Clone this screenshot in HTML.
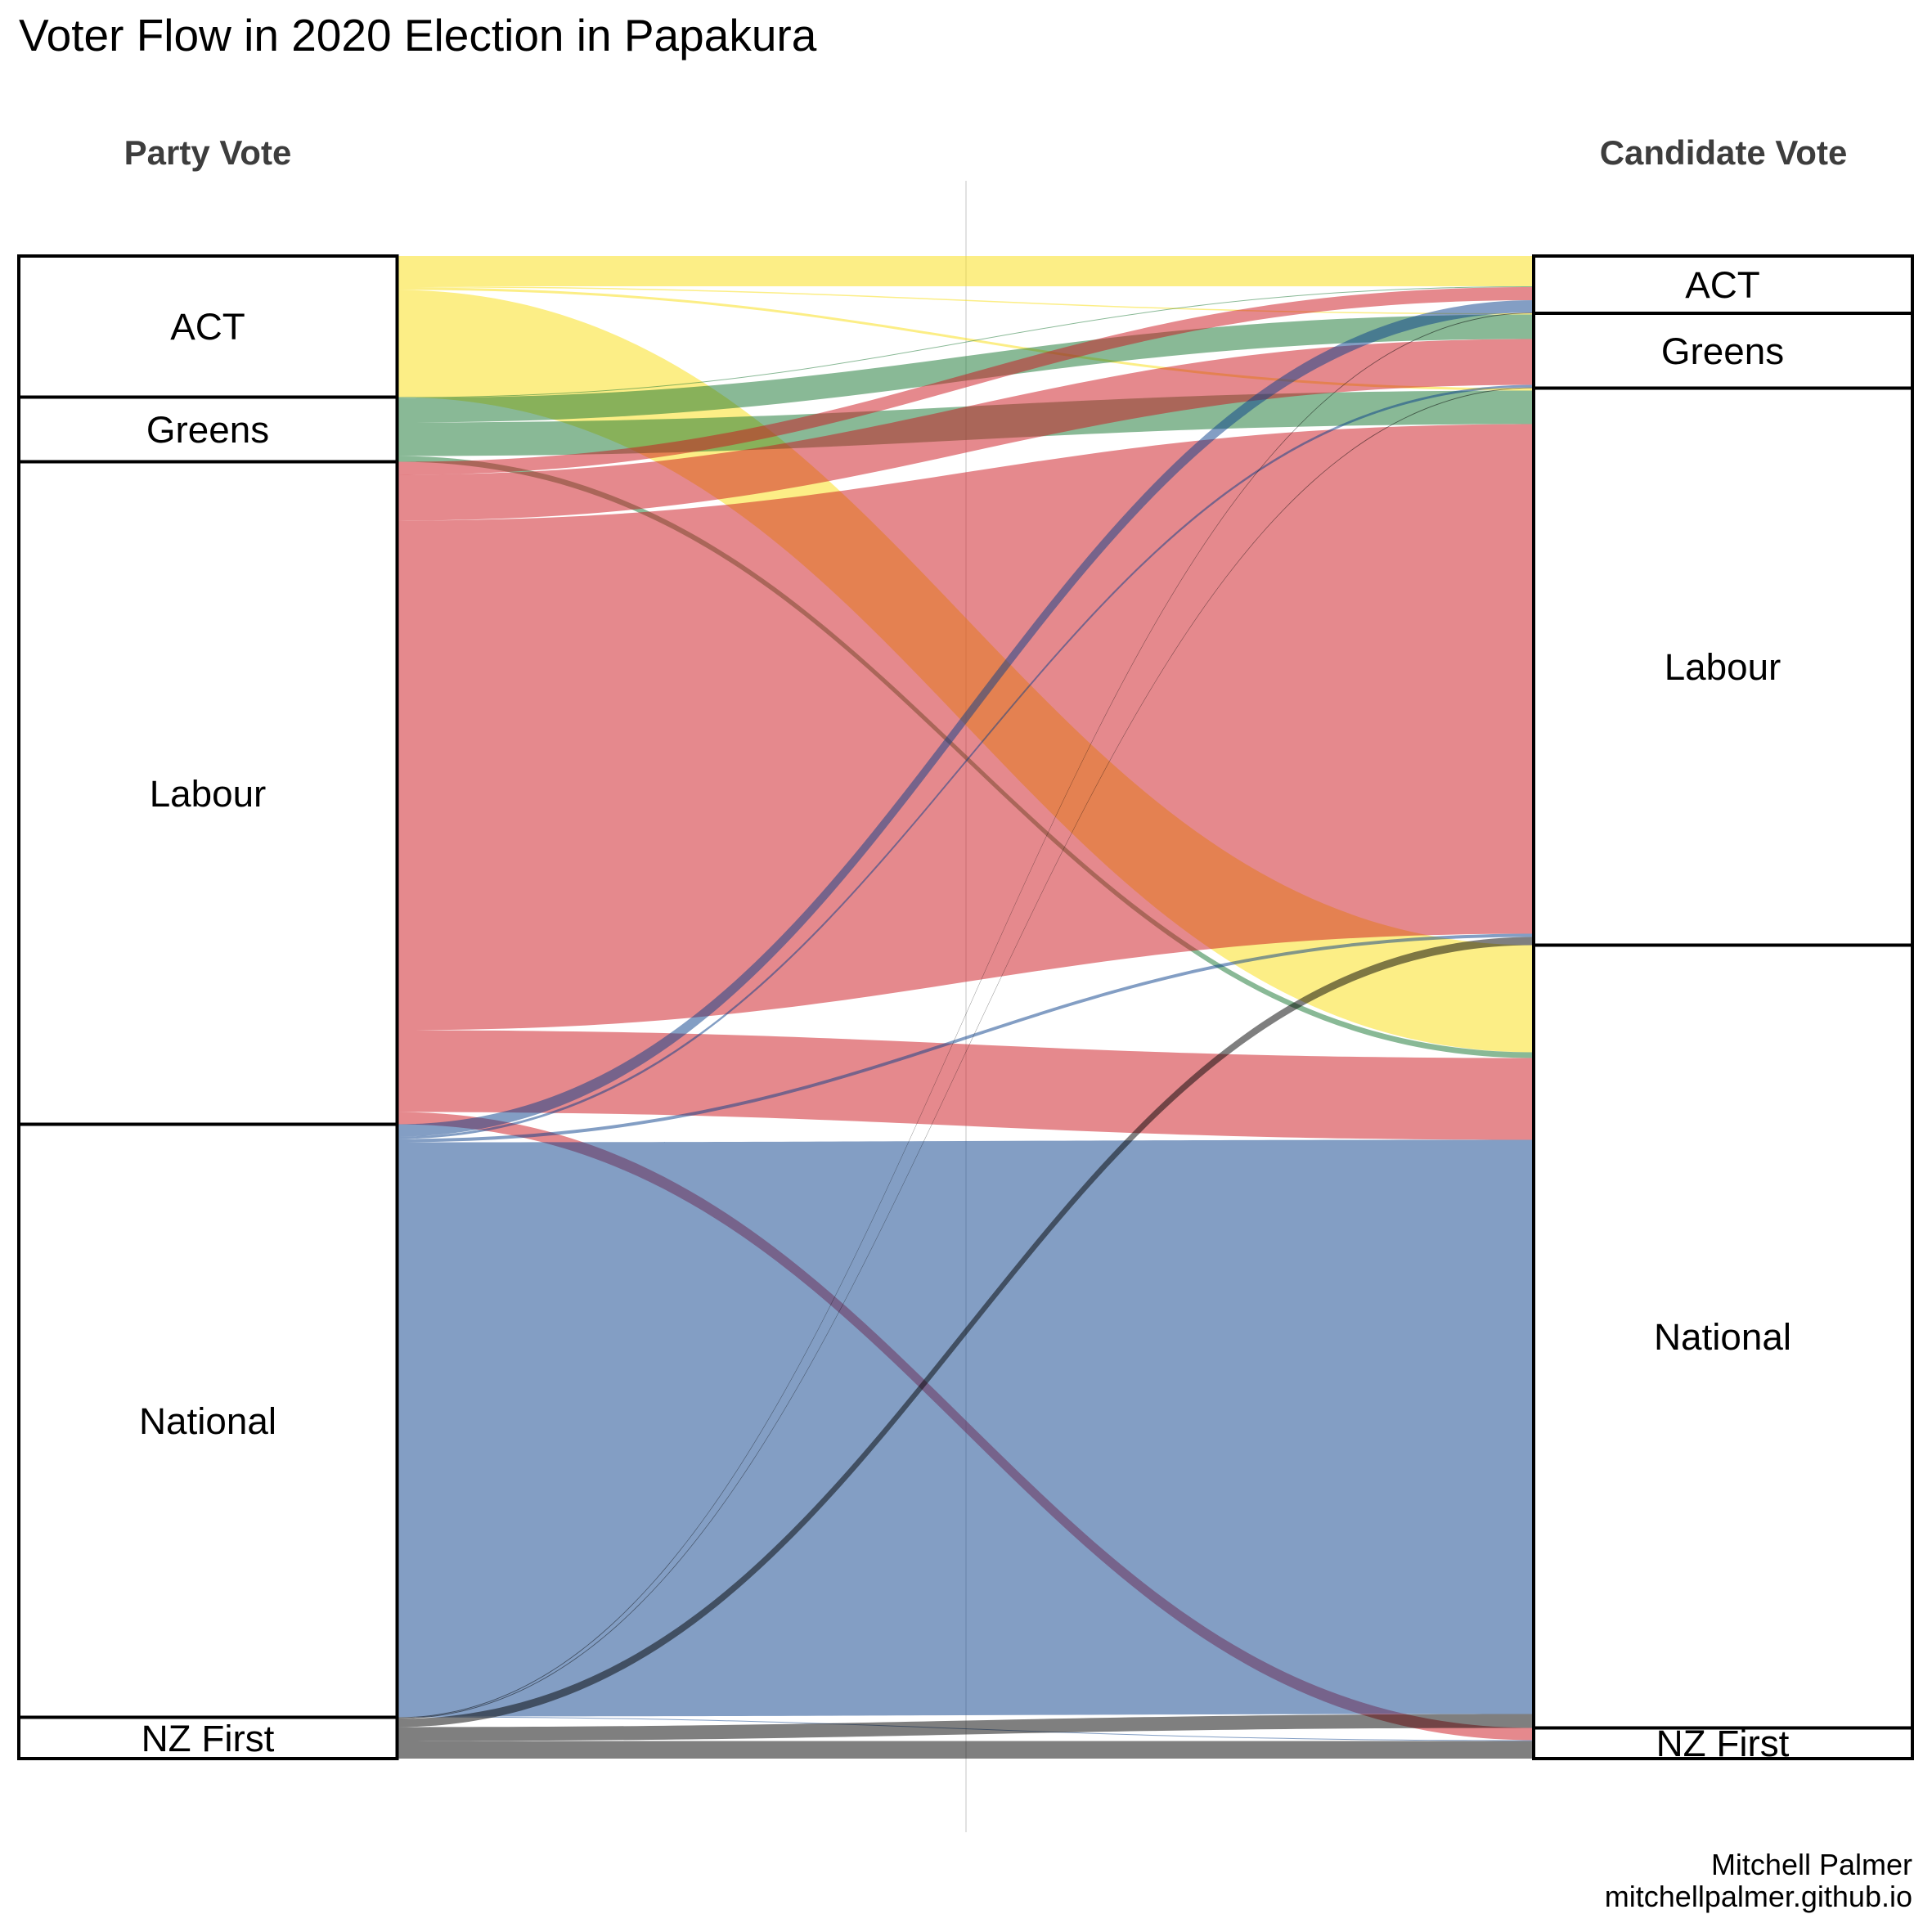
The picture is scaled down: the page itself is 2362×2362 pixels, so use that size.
<!DOCTYPE html>
<html>
<head>
<meta charset="utf-8">
<style>
  html, body { margin:0; padding:0; background:#ffffff; }
  svg { display:block; }
  text { font-family: "Liberation Sans", Arial, sans-serif; }
</style>
</head>
<body>
<svg width="2362" height="2362" viewBox="0 0 2362 2362" xmlns="http://www.w3.org/2000/svg">
  <rect x="0" y="0" width="2362" height="2362" fill="#ffffff"/>

  <!-- center axis line -->
  <line x1="1181" y1="221" x2="1181" y2="2240" stroke="#e2e2e2" stroke-width="2"/>

  <!-- ACT flows -->
  <g fill="rgb(249,221,13)" fill-opacity="0.5">
    <path d="M485.5,313 C1110.5,313 1250,313 1875,313 L1875,350 C1250,350 1110.5,350 485.5,350 Z"/>
    <path d="M485.5,350 C1110.5,350 1250,383 1875,383 L1875,384.5 C1250,384.5 1110.5,351.5 485.5,351.5 Z"/>
    <path d="M485.5,351.5 C1110.5,351.5 1250,474.5 1875,474.5 L1875,477.5 C1250,477.5 1110.5,354.5 485.5,354.5 Z"/>
    <path d="M485.5,354.5 C1110.5,354.5 1250,1155.5 1875,1155.5 L1875,1286.5 C1250,1286.5 1110.5,485.5 485.5,485.5 Z"/>
  </g>

  <!-- Greens flows -->
  <g fill="rgb(19,115,45)" fill-opacity="0.5">
    <path d="M485.5,485.5 C1110.5,485.5 1250,350 1875,350 L1875,351 C1250,351 1110.5,486.5 485.5,486.5 Z"/>
    <path d="M485.5,486.5 C1110.5,486.5 1250,384.5 1875,384.5 L1875,414.5 C1250,414.5 1110.5,516.5 485.5,516.5 Z"/>
    <path d="M485.5,516.5 C1110.5,516.5 1250,477.5 1875,477.5 L1875,518.5 C1250,518.5 1110.5,557.5 485.5,557.5 Z"/>
    <path d="M485.5,557.5 C1110.5,557.5 1250,1286.5 1875,1286.5 L1875,1293.5 C1250,1293.5 1110.5,564.5 485.5,564.5 Z"/>
  </g>

  <!-- Labour flows -->
  <g fill="rgb(203,19,27)" fill-opacity="0.5">
    <path d="M485.5,564.5 C1110.5,564.5 1250,351 1875,351 L1875,367 C1250,367 1110.5,580.5 485.5,580.5 Z"/>
    <path d="M485.5,580.5 C1110.5,580.5 1250,414.5 1875,414.5 L1875,470.5 C1250,470.5 1110.5,636.5 485.5,636.5 Z"/>
    <path d="M485.5,636.5 C1110.5,636.5 1250,518.5 1875,518.5 L1875,1141.5 C1250,1141.5 1110.5,1259.5 485.5,1259.5 Z"/>
    <path d="M485.5,1259.5 C1110.5,1259.5 1250,1293.5 1875,1293.5 L1875,1393.5 C1250,1393.5 1110.5,1359.5 485.5,1359.5 Z"/>
    <path d="M485.5,1359.5 C1110.5,1359.5 1250,2112.5 1875,2112.5 L1875,2127.5 C1250,2127.5 1110.5,1374.5 485.5,1374.5 Z"/>
  </g>

  <!-- National flows -->
  <g fill="rgb(7,61,137)" fill-opacity="0.5">
    <path d="M485.5,1374.5 C1110.5,1374.5 1250,367 1875,367 L1875,382 C1250,382 1110.5,1389.5 485.5,1389.5 Z"/>
    <path d="M485.5,1389.5 C1110.5,1389.5 1250,470.5 1875,470.5 L1875,473.5 C1250,473.5 1110.5,1392.5 485.5,1392.5 Z"/>
    <path d="M485.5,1392.5 C1110.5,1392.5 1250,1141.5 1875,1141.5 L1875,1145.5 C1250,1145.5 1110.5,1396.5 485.5,1396.5 Z"/>
    <path d="M485.5,1396.5 C1110.5,1396.5 1250,1393.5 1875,1393.5 L1875,2095.5 C1250,2095.5 1110.5,2098.5 485.5,2098.5 Z"/>
    <path d="M485.5,2098.5 C1110.5,2098.5 1250,2127.5 1875,2127.5 L1875,2128.5 C1250,2128.5 1110.5,2099.5 485.5,2099.5 Z"/>
  </g>

  <!-- NZ First flows -->
  <g fill="#000000" fill-opacity="0.5">
    <path d="M485.5,2099.5 C1110.5,2099.5 1250,382 1875,382 L1875,383 C1250,383 1110.5,2100.5 485.5,2100.5 Z"/>
    <path d="M485.5,2100.5 C1110.5,2100.5 1250,473.5 1875,473.5 L1875,474.5 C1250,474.5 1110.5,2101.5 485.5,2101.5 Z"/>
    <path d="M485.5,2101.5 C1110.5,2101.5 1250,1145.5 1875,1145.5 L1875,1155.5 C1250,1155.5 1110.5,2111.5 485.5,2111.5 Z"/>
    <path d="M485.5,2111.5 C1110.5,2111.5 1250,2095.5 1875,2095.5 L1875,2112.5 C1250,2112.5 1110.5,2128.5 485.5,2128.5 Z"/>
    <path d="M485.5,2128.5 C1110.5,2128.5 1250,2128.5 1875,2128.5 L1875,2150 C1250,2150 1110.5,2150 485.5,2150 Z"/>
  </g>

  <!-- Left strata -->
  <g fill="#ffffff" stroke="#000000" stroke-width="4">
    <rect x="23" y="313" width="462.5" height="172.5"/>
    <rect x="23" y="485.5" width="462.5" height="79"/>
    <rect x="23" y="564.5" width="462.5" height="810"/>
    <rect x="23" y="1374.5" width="462.5" height="725"/>
    <rect x="23" y="2099.5" width="462.5" height="50.5"/>
  </g>
  <!-- Right strata -->
  <g fill="#ffffff" stroke="#000000" stroke-width="4">
    <rect x="1875" y="313" width="463" height="70"/>
    <rect x="1875" y="383" width="463" height="91.5"/>
    <rect x="1875" y="474.5" width="463" height="681"/>
    <rect x="1875" y="1155.5" width="463" height="957"/>
    <rect x="1875" y="2112.5" width="463" height="37.5"/>
  </g>

  <!-- Stratum labels -->
  <g font-size="45.8" fill="#000000" text-anchor="middle">
    <text x="254" y="415">ACT</text>
    <text x="254" y="541">Greens</text>
    <text x="254" y="986">Labour</text>
    <text x="254" y="1753">National</text>
    <text x="254" y="2141">NZ First</text>
    <text x="2106" y="364">ACT</text>
    <text x="2106" y="445">Greens</text>
    <text x="2106" y="831">Labour</text>
    <text x="2106" y="1650">National</text>
    <text x="2106" y="2147">NZ First</text>
  </g>

  <!-- Axis headers -->
  <g font-size="42" font-weight="bold" fill="#3d3d3d" text-anchor="middle">
    <text x="254" y="201">Party Vote</text>
    <text x="2107" y="201">Candidate Vote</text>
  </g>

  <!-- Title -->
  <text x="23" y="62" font-size="55" fill="#000000">Voter Flow in 2020 Election in Papakura</text>

  <!-- Caption -->
  <g font-size="36" fill="#000000" text-anchor="end">
    <text x="2338" y="2292">Mitchell Palmer</text>
    <text x="2338" y="2331">mitchellpalmer.github.io</text>
  </g>
</svg>
</body>
</html>
